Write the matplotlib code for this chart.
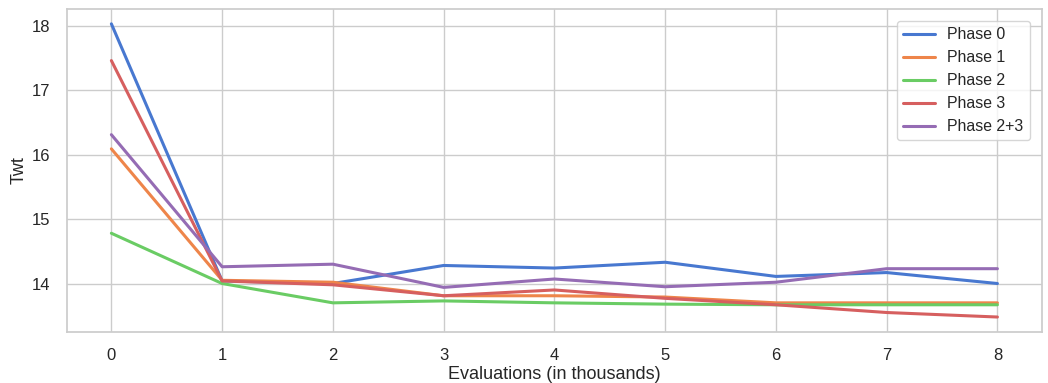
import matplotlib

matplotlib.use("Agg")
import matplotlib.pyplot as plt
import seaborn as sns

# evaluations (thousands)
evals = [0, 1, 2, 3, 4, 5, 6, 7, 8]

phase0 = [18.03, 14.04, 14.00, 14.28, 14.24, 14.33, 14.11, 14.17, 14.00]
phase1 = [16.09, 14.05, 14.02, 13.81, 13.81, 13.79, 13.70, 13.70, 13.70]
phase2 = [14.78, 14.00, 13.70, 13.73, 13.70, 13.68, 13.67, 13.67, 13.67]
phase3 = [17.46, 14.04, 13.98, 13.81, 13.90, 13.77, 13.67, 13.55, 13.48]
phase23 = [16.31, 14.26, 14.30, 13.94, 14.07, 13.95, 14.02, 14.23, 14.23]

series_names = ["Phase 0", "Phase 1", "Phase 2", "Phase 3", "Phase 2+3"]
series_values = [phase0, phase1, phase2, phase3, phase23]

sns.set_theme(style="whitegrid", palette="muted")
plt.rcParams["font.family"] = ["Liberation Sans", "DejaVu Sans"]

fig, ax = plt.subplots(figsize=(10.48, 3.83), dpi=100)
fig.subplots_adjust(left=0.064, right=0.994, top=0.976, bottom=0.134)

colors = sns.color_palette("muted")
for name, vals, col in zip(series_names, series_values, colors):
    ax.plot(evals, vals, label=name, color=col, lw=2.2)

ax.set_xlabel("Evaluations (in thousands)", fontsize=13, labelpad=2)
ax.set_ylabel("Twt", fontsize=13, labelpad=3)
ax.set_xticks(evals)
ax.set_yticks([14, 15, 16, 17, 18])
ax.tick_params(axis="both", labelsize=12, pad=6)
for sp in ax.spines.values():
    sp.set_color("#cccccc")
    sp.set_linewidth(1.25)

ax.legend(loc="upper right", fontsize=11.4, handlelength=2.0, borderaxespad=0.75)

fig.savefig("out.png", dpi=100)
